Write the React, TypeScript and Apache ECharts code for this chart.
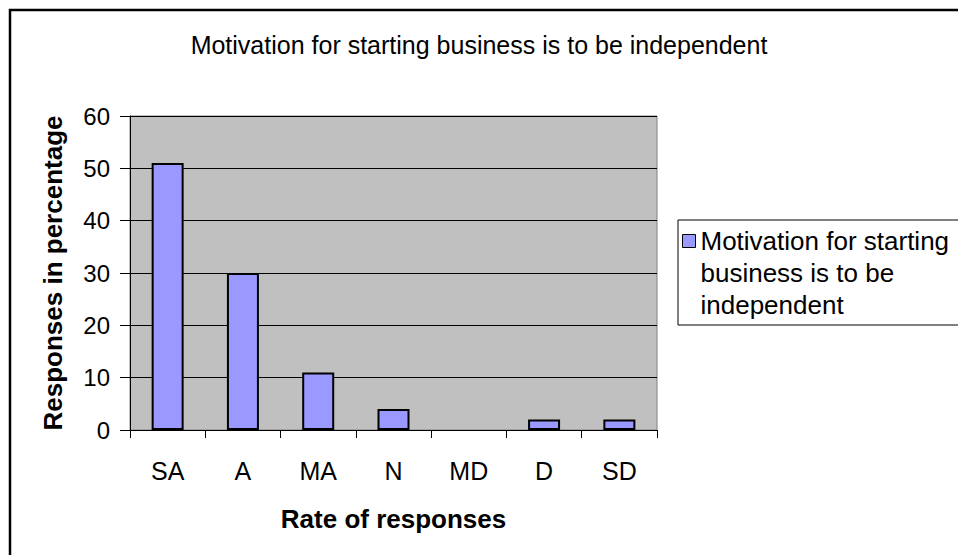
import React, { useEffect, useRef } from "react";
import * as echarts from "echarts";

const chartTitle = "Motivation for starting business is to be independent";
const categories = ["SA", "A", "MA", "N", "MD", "D", "SD"];
const values = [51, 30, 11, 4, 0, 2, 2];
const yTicks = { min: 0, max: 60, interval: 10 };
const xName = "Rate of responses";
const yName = "Responses in percentage";
const seriesName = "Motivation for starting business is to be independent";
const legendLines = ["Motivation for starting", "business is to be", "independent"];

const FONT = "Arial, 'Liberation Sans', sans-serif";

export default function App() {
  const ref = useRef<HTMLDivElement>(null);
  useEffect(() => {
    if (!ref.current) return;
    const chart = echarts.init(ref.current, null, { renderer: "svg" });
    chart.setOption({
      animation: false,
      backgroundColor: "#ffffff",
      textStyle: { fontFamily: FONT },
      title: {
        text: chartTitle,
        left: "center",
        top: 27,
        textStyle: { fontFamily: FONT, fontSize: 25, fontWeight: "normal", color: "#000" },
      },
      grid: {
        left: 130,
        right: 301,
        top: 116,
        bottom: 125,
        show: true,
        backgroundColor: "#C0C0C0",
        borderColor: "#808080",
        borderWidth: 1,
      },
      legend: {
        left: 682,
        top: 161,
        padding: 0,
        itemWidth: 13,
        itemHeight: 13,
        itemGap: 0,
        icon: "rect",
        itemStyle: { borderColor: "#000", borderWidth: 1 },
        formatter: () => ["\u00a0", "\u00a0", ...legendLines].join("\n"),
        textStyle: {
          fontFamily: FONT,
          fontSize: 26,
          color: "#000",
          lineHeight: 32,
        },
        data: [seriesName],
      },
      xAxis: {
        type: "category",
        data: categories,
        boundaryGap: true,
        name: xName,
        nameLocation: "middle",
        nameGap: 76,
        nameTextStyle: { fontFamily: FONT, fontSize: 26, fontWeight: "bold", color: "#000" },
        axisLine: { lineStyle: { color: "#000", width: 1 } },
        axisTick: { show: true, alignWithLabel: false, length: 8, lineStyle: { color: "#000" } },
        axisLabel: { fontFamily: FONT, fontSize: 25, color: "#000", margin: 28 },
        splitLine: { show: false },
      },
      yAxis: {
        type: "value",
        min: yTicks.min,
        max: yTicks.max,
        interval: yTicks.interval,
        name: yName,
        nameLocation: "middle",
        nameGap: 64,
        nameRotate: 90,
        nameTextStyle: { fontFamily: FONT, fontSize: 26, fontWeight: "bold", color: "#000" },
        axisLine: { show: true, lineStyle: { color: "#000", width: 1 } },
        axisTick: { show: true, length: 10, lineStyle: { color: "#000" } },
        axisLabel: { fontFamily: FONT, fontSize: 24, color: "#000", margin: 20 },
        splitLine: { show: true, lineStyle: { color: "#000", width: 1 } },
      },
      series: [
        {
          name: seriesName,
          type: "bar",
          data: values.map((v) =>
            v === 0 ? { value: v, itemStyle: { borderWidth: 0, opacity: 0 } } : v
          ),
          barWidth: 32,
          itemStyle: { color: "#9999FF", borderColor: "#000", borderWidth: 2 },
        },
      ],
      graphic: [
        {
          type: "rect",
          shape: { x: 10, y: 10, width: 1000, height: 600 },
          style: { fill: "none", stroke: "#000", lineWidth: 2.5 },
          silent: true,
          z: 100,
        },
        {
          type: "rect",
          shape: { x: 678, y: 220, width: 400, height: 105 },
          style: { fill: "none", stroke: "#000", lineWidth: 1 },
          silent: true,
          z: 100,
        },
      ],
    });
    return () => chart.dispose();
  }, []);
  return (
    <div
      ref={ref}
      style={{ position: "fixed", left: 0, top: 0, width: 958, height: 555 }}
    />
  );
}
